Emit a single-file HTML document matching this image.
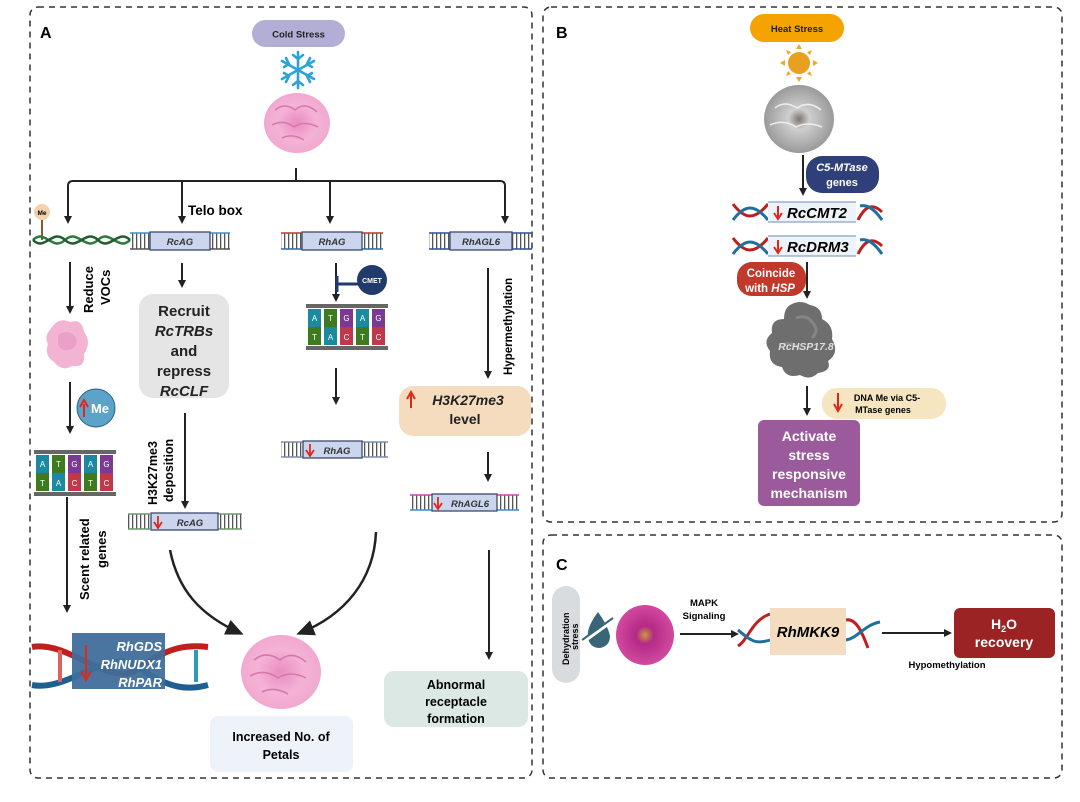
<!DOCTYPE html>
<html><head><meta charset="utf-8"><style>
html,body{margin:0;padding:0;background:#fff}
svg{display:block}
text{font-family:"Liberation Sans",Arial,sans-serif}
</style></head><body>
<svg width="1080" height="802" viewBox="0 0 1080 802" xmlns="http://www.w3.org/2000/svg">
<defs>
<marker id="ah" markerWidth="8" markerHeight="8" refX="6" refY="4" orient="auto" markerUnits="userSpaceOnUse"><path d="M0,0 L8,4 L0,8 Z" fill="#222"/></marker>
<marker id="ahb" markerWidth="18" markerHeight="16" refX="14" refY="8" orient="auto" markerUnits="userSpaceOnUse"><path d="M0,0 L18,8 L0,16 Z" fill="#222"/></marker>
<pattern id="lad" width="4" height="16" patternUnits="userSpaceOnUse"><rect x="0" y="0" width="1.3" height="16" fill="#555"/></pattern>
<radialGradient id="pink"><stop offset="0" stop-color="#e98cc0"/><stop offset="0.6" stop-color="#f4b3d6"/><stop offset="1" stop-color="#f1a8cf"/></radialGradient>
<radialGradient id="wht"><stop offset="0" stop-color="#7d756c"/><stop offset="0.3" stop-color="#cfcfcf"/><stop offset="1" stop-color="#9a9a9a"/></radialGradient>
<radialGradient id="mag"><stop offset="0" stop-color="#c89a3a"/><stop offset="0.3" stop-color="#b42a86"/><stop offset="1" stop-color="#d14aa0"/></radialGradient>
</defs>

<!-- Panel borders -->
<rect x="30" y="7" width="502" height="771" rx="8" fill="none" stroke="#333" stroke-width="1.5" stroke-dasharray="6,5"/>
<rect x="543" y="7" width="519" height="515" rx="8" fill="none" stroke="#333" stroke-width="1.5" stroke-dasharray="6,5"/>
<rect x="543" y="535" width="519" height="243" rx="8" fill="none" stroke="#333" stroke-width="1.5" stroke-dasharray="6,5"/>

<!-- ===== Panel A ===== -->
<text x="40" y="38" font-size="16" font-weight="bold">A</text>
<rect x="252" y="20" width="93" height="27" rx="13.5" fill="#b3aed6"/>
<text x="298.5" y="37.5" font-size="9.5" font-weight="bold" text-anchor="middle" fill="#222">Cold Stress</text>
<g stroke="#2ca3d6" stroke-width="2.6" stroke-linecap="round" fill="none">
<line x1="298" y1="52" x2="298" y2="88"/><line x1="282" y1="61" x2="314" y2="79"/><line x1="282" y1="79" x2="314" y2="61"/>
<path d="M293,55 L298,59 L303,55 M293,85 L298,81 L303,85 M284,67 L289,64 L286,58 M312,73 L307,76 L310,82 M284,73 L289,76 L286,82 M312,67 L307,64 L310,58"/>
</g>
<ellipse cx="297" cy="123" rx="33" ry="30" fill="url(#pink)"/>
<path d="M275,110 q10,-8 20,0 q10,-9 22,2 M272,125 q12,-6 22,2 q10,-7 24,0 M282,138 q10,-5 22,2" stroke="#d47aab" fill="none" stroke-width="1.5"/>

<!-- branch -->
<g stroke="#222" stroke-width="2" fill="none">
<line x1="296" y1="168" x2="296" y2="181"/>
<path d="M68,222 V186 Q68,181 73,181 H500 Q505,181 505,186 V222" marker-end="url(#ah)"/>
<line x1="68" y1="190" x2="68" y2="222" marker-end="url(#ah)"/>
<line x1="182" y1="181" x2="182" y2="222" marker-end="url(#ah)"/>
<line x1="330" y1="181" x2="330" y2="222" marker-end="url(#ah)"/>
</g>
<text x="188" y="215" font-size="13.5" font-weight="bold">Telo box</text>

<!-- Me ball + green DNA -->
<line x1="42" y1="218" x2="42" y2="240" stroke="#8a5a2a" stroke-width="2"/>
<circle cx="42" cy="212" r="8" fill="#f2d2ac"/>
<text x="42" y="215" font-size="6.5" font-weight="bold" text-anchor="middle">Me</text>
<path d="M33,240 C45,228 52,252 65,240 C78,228 85,252 98,240 C110,228 118,252 130,240" stroke="#2d7a3a" stroke-width="2.5" fill="none"/>
<path d="M33,240 C45,252 52,228 65,240 C78,252 85,228 98,240 C110,252 118,228 130,240" stroke="#1f5e2b" stroke-width="2.5" fill="none"/>

<!-- RcAG gene -->
<rect x="130" y="233" width="20" height="16" fill="url(#lad)"/><line x1="130" y1="233" x2="150" y2="233" stroke="#3b8fd0" stroke-width="1.5"/><line x1="130" y1="249" x2="150" y2="249" stroke="#555" stroke-width="1.5"/>
<rect x="210" y="233" width="20" height="16" fill="url(#lad)"/><line x1="210" y1="233" x2="230" y2="233" stroke="#3b8fd0" stroke-width="1.5"/><line x1="210" y1="249" x2="230" y2="249" stroke="#555" stroke-width="1.5"/>
<rect x="150" y="232" width="60" height="18" fill="#ccd5ee" stroke="#3d4a6a" stroke-width="1.3"/>
<text x="180" y="245" font-size="9.5" font-weight="bold" font-style="italic" text-anchor="middle" fill="#333">RcAG</text>

<!-- RhAG gene -->
<rect x="281" y="233" width="21" height="16" fill="url(#lad)"/><line x1="281" y1="233" x2="302" y2="233" stroke="#c0392b" stroke-width="1.5"/><line x1="281" y1="249" x2="302" y2="249" stroke="#2a6ca8" stroke-width="1.5"/>
<rect x="362" y="233" width="21" height="16" fill="url(#lad)"/><line x1="362" y1="233" x2="383" y2="233" stroke="#c0392b" stroke-width="1.5"/><line x1="362" y1="249" x2="383" y2="249" stroke="#2a6ca8" stroke-width="1.5"/>
<rect x="302" y="232" width="60" height="18" fill="#ccd5ee" stroke="#3d4a6a" stroke-width="1.3"/>
<text x="332" y="245" font-size="9.5" font-weight="bold" font-style="italic" text-anchor="middle" fill="#333">RhAG</text>

<!-- RhAGL6 gene -->
<rect x="429" y="233" width="21" height="16" fill="url(#lad)"/><line x1="429" y1="233" x2="450" y2="233" stroke="#2a4ca8" stroke-width="1.5"/><line x1="429" y1="249" x2="450" y2="249" stroke="#2a4ca8" stroke-width="1.5"/>
<rect x="512" y="233" width="20" height="16" fill="url(#lad)"/><line x1="512" y1="233" x2="532" y2="233" stroke="#2a4ca8" stroke-width="1.5"/><line x1="512" y1="249" x2="532" y2="249" stroke="#2a4ca8" stroke-width="1.5"/>
<rect x="450" y="232" width="62" height="18" fill="#ccd5ee" stroke="#3d4a6a" stroke-width="1.3"/>
<text x="481" y="245" font-size="9.5" font-weight="bold" font-style="italic" text-anchor="middle" fill="#333">RhAGL6</text>

<!-- left column -->
<g stroke="#222" stroke-width="2" fill="none">
<line x1="70" y1="262" x2="70" y2="312" marker-end="url(#ah)"/>
<line x1="70" y1="382" x2="70" y2="432" marker-end="url(#ah)"/>
<line x1="67" y1="497" x2="67" y2="611" marker-end="url(#ah)"/>
<line x1="182" y1="263" x2="182" y2="286" marker-end="url(#ah)"/>
<line x1="185" y1="413" x2="185" y2="507" marker-end="url(#ah)"/>
<line x1="336" y1="263" x2="336" y2="300" marker-end="url(#ah)"/>
<line x1="336" y1="368" x2="336" y2="403" marker-end="url(#ah)"/>
<line x1="488" y1="268" x2="488" y2="377" marker-end="url(#ah)"/>
<line x1="488" y1="452" x2="488" y2="480" marker-end="url(#ah)"/>
<line x1="489" y1="550" x2="489" y2="658" marker-end="url(#ah)"/>
</g>
<text transform="translate(93,313) rotate(-90)" font-size="13" font-weight="bold">Reduce</text>
<text transform="translate(110,305) rotate(-90)" font-size="13" font-weight="bold">VOCs</text>
<path d="M50,330 q8,-14 20,-8 q12,-4 14,10 q8,10 0,22 q2,14 -12,12 q-10,6 -18,-4 q-10,-6 -6,-18 q-4,-8 2,-14z" fill="#f3b3d3"/>
<path d="M58,335 q8,-6 16,0 q6,8 -2,14 q-10,4 -14,-4z" fill="#eaa0c7"/>
<circle cx="96" cy="408" r="19" fill="#5ba3c9" stroke="#2a5f86" stroke-width="1"/>
<path d="M84,417 V404 M80,407 L84,400 L88,407" stroke="#e0281a" stroke-width="2" fill="none"/>
<text x="100" y="413" font-size="13" font-weight="bold" fill="#fff" text-anchor="middle">Me</text>

<!-- ATGAG blocks -->
<g id="blk1">
<rect x="34" y="450" width="82" height="4" fill="#666"/><rect x="34" y="492" width="82" height="4" fill="#666"/>
<rect x="36" y="455" width="13" height="18" fill="#1b8aa0"/><rect x="36" y="473" width="13" height="18" fill="#3d7a20"/>
<rect x="52" y="455" width="13" height="18" fill="#3d7a20"/><rect x="52" y="473" width="13" height="18" fill="#1b8aa0"/>
<rect x="68" y="455" width="13" height="18" fill="#7a3a94"/><rect x="68" y="473" width="13" height="18" fill="#c0384a"/>
<rect x="84" y="455" width="13" height="18" fill="#1b8aa0"/><rect x="84" y="473" width="13" height="18" fill="#3d7a20"/>
<rect x="100" y="455" width="13" height="18" fill="#7a3a94"/><rect x="100" y="473" width="13" height="18" fill="#c0384a"/>
<g font-size="8" fill="#fff" text-anchor="middle"><text x="42.5" y="467">A</text><text x="58.5" y="467">T</text><text x="74.5" y="467">G</text><text x="90.5" y="467">A</text><text x="106.5" y="467">G</text>
<text x="42.5" y="486">T</text><text x="58.5" y="486">A</text><text x="74.5" y="486">C</text><text x="90.5" y="486">T</text><text x="106.5" y="486">C</text></g>
</g>
<use href="#blk1" transform="translate(272,-146)"/>

<text transform="translate(89,600) rotate(-90)" font-size="13" font-weight="bold">Scent related</text>
<text transform="translate(106,568) rotate(-90)" font-size="13" font-weight="bold">genes</text>

<!-- RhGDS DNA -->
<path d="M32,647 C70,640 110,690 140,668 C170,645 190,645 208,647" stroke="#c01f1f" stroke-width="6" fill="none"/>
<path d="M32,685 C70,692 110,645 140,668 C170,690 190,690 208,685" stroke="#1f5f8f" stroke-width="6" fill="none"/>
<line x1="60" y1="650" x2="60" y2="682" stroke="#e06060" stroke-width="4"/><line x1="196" y1="650" x2="196" y2="682" stroke="#2a9ac0" stroke-width="4"/>
<rect x="72" y="633" width="93" height="56" fill="#3f6e9b" opacity="0.95"/>
<path d="M86,645 V677 M81,671 L86,680 L91,671" stroke="#e0281a" stroke-width="2" fill="none"/>
<g font-size="13" font-weight="bold" font-style="italic" fill="#fff" text-anchor="end"><text x="162" y="651">RhGDS</text><text x="162" y="669">RhNUDX1</text><text x="162" y="687">RhPAR</text></g>

<!-- Recruit box -->
<rect x="139" y="294" width="90" height="104" rx="14" fill="#e5e5e5"/>
<g font-size="15" font-weight="bold" text-anchor="middle" fill="#222">
<text x="184" y="316">Recruit</text><text x="184" y="336" font-style="italic">RcTRBs</text><text x="184" y="356">and</text><text x="184" y="376">repress</text><text x="184" y="396" font-style="italic">RcCLF</text></g>
<text transform="translate(157,505) rotate(-90)" font-size="12.5" font-weight="bold">H3K27me3</text>
<text transform="translate(173,502) rotate(-90)" font-size="12.5" font-weight="bold">deposition</text>

<!-- RcAG down -->
<rect x="128" y="514" width="22" height="15" fill="url(#lad)"/><line x1="128" y1="514" x2="150" y2="514" stroke="#6a9a6a" stroke-width="1.5"/><line x1="128" y1="529" x2="150" y2="529" stroke="#6a9a6a" stroke-width="1.5"/>
<rect x="218" y="514" width="24" height="15" fill="url(#lad)"/><line x1="218" y1="514" x2="242" y2="514" stroke="#6a9a6a" stroke-width="1.5"/><line x1="218" y1="529" x2="242" y2="529" stroke="#6a9a6a" stroke-width="1.5"/>
<rect x="151" y="513" width="67" height="17" fill="#ccd5ee" stroke="#3d4a6a" stroke-width="1.3"/>
<path d="M158,516 V527 M154,522 L158,528 L162,522" stroke="#e0281a" stroke-width="1.8" fill="none"/>
<text x="190" y="526" font-size="9.5" font-weight="bold" font-style="italic" text-anchor="middle" fill="#333">RcAG</text>

<!-- CMET -->
<line x1="337" y1="284" x2="360" y2="284" stroke="#1f3a6b" stroke-width="3"/>
<line x1="337" y1="276" x2="337" y2="292" stroke="#1f3a6b" stroke-width="3"/>
<circle cx="372" cy="280" r="15" fill="#1f3a6b"/>
<text x="372" y="283" font-size="7" font-weight="bold" fill="#fff" text-anchor="middle">CMET</text>

<!-- RhAG down -->
<rect x="281" y="442" width="22" height="15" fill="url(#lad)"/><line x1="281" y1="442" x2="303" y2="442" stroke="#7a8ab0" stroke-width="1.5"/><line x1="281" y1="457" x2="303" y2="457" stroke="#7a8ab0" stroke-width="1.5"/>
<rect x="362" y="442" width="26" height="15" fill="url(#lad)"/><line x1="362" y1="442" x2="388" y2="442" stroke="#7a8ab0" stroke-width="1.5"/><line x1="362" y1="457" x2="388" y2="457" stroke="#7a8ab0" stroke-width="1.5"/>
<rect x="303" y="441" width="59" height="17" fill="#ccd5ee" stroke="#3d4a6a" stroke-width="1.3"/>
<path d="M310,444 V455 M306,450 L310,456 L314,450" stroke="#e0281a" stroke-width="1.8" fill="none"/>
<text x="337" y="454" font-size="9.5" font-weight="bold" font-style="italic" text-anchor="middle" fill="#333">RhAG</text>

<!-- Hypermethylation -->
<text transform="translate(512,375) rotate(-90)" font-size="11.5" font-weight="bold">Hypermethylation</text>
<rect x="399" y="386" width="132" height="50" rx="14" fill="#f5dcbf"/>
<path d="M411,408 V394 M407,399 L411,392 L415,399" stroke="#e0281a" stroke-width="2" fill="none"/>
<text x="468" y="405" font-size="14" font-weight="bold" font-style="italic" text-anchor="middle" fill="#222">H3K27me3</text>
<text x="465" y="424" font-size="14" font-weight="bold" text-anchor="middle" fill="#222">level</text>

<!-- RhAGL6 down -->
<rect x="410" y="495" width="22" height="15" fill="url(#lad)"/><line x1="410" y1="495" x2="432" y2="495" stroke="#d040b0" stroke-width="1.5"/><line x1="410" y1="510" x2="432" y2="510" stroke="#3b8fd0" stroke-width="1.5"/>
<rect x="497" y="495" width="22" height="15" fill="url(#lad)"/><line x1="497" y1="495" x2="519" y2="495" stroke="#d040b0" stroke-width="1.5"/><line x1="497" y1="510" x2="519" y2="510" stroke="#3b8fd0" stroke-width="1.5"/>
<rect x="432" y="494" width="65" height="17" fill="#ccd5ee" stroke="#3d4a6a" stroke-width="1.3"/>
<path d="M438,497 V508 M434,503 L438,509 L442,503" stroke="#e0281a" stroke-width="1.8" fill="none"/>
<text x="470" y="507" font-size="9.5" font-weight="bold" font-style="italic" text-anchor="middle" fill="#333">RhAGL6</text>

<!-- curved arrows -->
<path d="M170,550 C178,590 200,615 240,633" stroke="#222" stroke-width="2.5" fill="none" marker-end="url(#ahb)"/>
<path d="M376,532 C374,580 345,615 300,633" stroke="#222" stroke-width="2.5" fill="none" marker-end="url(#ahb)"/>

<!-- bottom rose and boxes -->
<ellipse cx="281" cy="672" rx="40" ry="37" fill="url(#pink)"/>
<path d="M254,660 q12,-10 26,0 q12,-10 26,2 M250,676 q14,-8 28,2 q12,-8 28,0 M262,692 q12,-6 26,2" stroke="#d47aab" fill="none" stroke-width="1.6"/>
<rect x="210" y="716" width="143" height="56" rx="8" fill="#eef3fa"/>
<text x="281" y="741" font-size="12.5" font-weight="bold" text-anchor="middle">Increased No. of</text>
<text x="281" y="759" font-size="12.5" font-weight="bold" text-anchor="middle">Petals</text>
<rect x="384" y="671" width="144" height="56" rx="10" fill="#dbe8e4"/>
<g font-size="12.5" font-weight="bold" text-anchor="middle"><text x="456" y="689">Abnormal</text><text x="456" y="706">receptacle</text><text x="456" y="723">formation</text></g>

<!-- ===== Panel B ===== -->
<text x="556" y="38" font-size="16" font-weight="bold">B</text>
<rect x="750" y="14" width="94" height="28" rx="14" fill="#f5a300"/>
<text x="797" y="32" font-size="9.5" font-weight="bold" text-anchor="middle" fill="#222">Heat Stress</text>
<circle cx="799" cy="63" r="11" fill="#e8a020"/>
<g fill="#f0a820"><path d="M799,44 l-3,5 h6z M799,82 l-3,-5 h6z M780,63 l5,-3 v6z M818,63 l-5,-3 v6z M786,50 l5,2 -3,3z M812,50 l-5,2 3,3z M786,76 l5,-2 -3,-3z M812,76 l-5,-2 3,-3z"/></g>
<ellipse cx="799" cy="119" rx="35" ry="34" fill="url(#wht)"/>
<path d="M775,108 q10,-8 22,0 q12,-8 24,2 M770,125 q14,-6 26,2 q12,-6 26,0" stroke="#eee" fill="none" stroke-width="1.5"/>
<line x1="803" y1="155" x2="803" y2="194" stroke="#222" stroke-width="2" marker-end="url(#ah)"/>
<rect x="806" y="156" width="73" height="37" rx="16" fill="#2e3f7a"/>
<text x="842" y="171" font-size="11" font-weight="bold" font-style="italic" fill="#fff" text-anchor="middle">C5-MTase</text>
<text x="842" y="186" font-size="11" font-weight="bold" fill="#fff" text-anchor="middle">genes</text>

<g id="dnaB">
<path d="M733,204 C745,220 755,220 768,204" stroke="#c01f1f" stroke-width="3" fill="none"/>
<path d="M733,220 C745,204 755,204 768,220" stroke="#1f6f9f" stroke-width="3" fill="none"/>
<path d="M858,220 C866,204 874,204 882,212" stroke="#c01f1f" stroke-width="3" fill="none"/>
<path d="M860,206 C868,204 875,210 882,220" stroke="#1f6f9f" stroke-width="3" fill="none"/>
<rect x="768" y="202" width="88" height="20" fill="#eef3fa"/>
<line x1="768" y1="202" x2="856" y2="202" stroke="#8aa0c8" stroke-width="1.2"/><line x1="768" y1="222" x2="856" y2="222" stroke="#8aa0c8" stroke-width="1.2"/>
<path d="M778,206 V218 M774,213 L778,219 L782,213" stroke="#e0281a" stroke-width="2" fill="none"/>
</g>
<use href="#dnaB" transform="translate(0,34)"/>
<text x="787" y="218" font-size="15" font-weight="bold" font-style="italic">RcCMT2</text>
<text x="787" y="252" font-size="15" font-weight="bold" font-style="italic">RcDRM3</text>

<rect x="737" y="262" width="69" height="34" rx="15" fill="#c0392b"/>
<text x="771" y="277" font-size="11.5" font-weight="bold" fill="#fff" text-anchor="middle">Coincide</text>
<text x="770" y="292" font-size="11.5" font-weight="bold" fill="#fff" text-anchor="middle">with <tspan font-style="italic">HSP</tspan></text>
<line x1="807" y1="262" x2="807" y2="297" stroke="#222" stroke-width="2" marker-end="url(#ah)"/>

<path d="M790,305 q10,-6 20,0 q12,2 12,14 q12,6 10,20 q8,14 -4,22 q4,10 -10,12 q-8,8 -18,2 q-14,4 -18,-8 q-14,-2 -12,-16 q-8,-10 2,-18 q-2,-14 12,-14 q0,-10 6,-14z" fill="#6e6e6e"/>
<path d="M796,318 q10,-4 16,4 q8,8 0,16 M782,345 q10,-4 18,4" stroke="#858585" fill="none" stroke-width="3"/>
<text x="806" y="350" font-size="10.5" font-weight="bold" font-style="italic" fill="#ddd" text-anchor="middle">RcHSP17.8</text>

<line x1="807" y1="386" x2="807" y2="414" stroke="#222" stroke-width="2" marker-end="url(#ah)"/>
<rect x="822" y="388" width="124" height="31" rx="15" fill="#f5e5c0"/>
<path d="M838,393 V410 M834,404 L838,411 L842,404" stroke="#e0281a" stroke-width="2" fill="none"/>
<text x="887" y="401" font-size="9" font-weight="bold" text-anchor="middle">DNA Me via C5-</text>
<text x="883" y="413" font-size="9" font-weight="bold" text-anchor="middle">MTase genes</text>
<rect x="758" y="420" width="102" height="86" rx="6" fill="#9b5a9b"/>
<g font-size="14" font-weight="bold" fill="#fff" text-anchor="middle"><text x="809" y="441">Activate</text><text x="809" y="460">stress</text><text x="809" y="479">responsive</text><text x="809" y="498">mechanism</text></g>

<!-- ===== Panel C ===== -->
<text x="556" y="570" font-size="16" font-weight="bold">C</text>
<rect x="552" y="586" width="28" height="97" rx="14" fill="#d9dcdf"/>
<text transform="translate(569,665) rotate(-90)" font-size="9" font-weight="bold">Dehydration</text>
<text transform="translate(578,650) rotate(-90)" font-size="9" font-weight="bold">stress</text>
<path d="M598,612 q-12,16 -10,26 q2,10 12,10 q10,-2 10,-12 q-2,-10 -12,-24z" fill="#3a6478"/>
<line x1="582" y1="643" x2="614" y2="620" stroke="#fff" stroke-width="3"/>
<line x1="582" y1="640" x2="613" y2="618" stroke="#3a6478" stroke-width="2"/>
<ellipse cx="645" cy="635" rx="29" ry="30" fill="url(#mag)"/>
<text x="704" y="606" font-size="9.5" font-weight="bold" text-anchor="middle">MAPK</text>
<text x="704" y="619" font-size="9.5" font-weight="bold" text-anchor="middle">Signaling</text>
<line x1="680" y1="634" x2="737" y2="634" stroke="#222" stroke-width="2" marker-end="url(#ah)"/>
<path d="M738,646 C748,640 752,620 770,614" stroke="#c01f1f" stroke-width="3" fill="none"/>
<path d="M738,630 C750,640 755,645 770,640" stroke="#1f6f9f" stroke-width="3" fill="none"/>
<path d="M846,620 C856,618 862,632 868,648" stroke="#c01f1f" stroke-width="3" fill="none"/>
<path d="M846,640 C858,638 864,625 880,622" stroke="#1f6f9f" stroke-width="3" fill="none"/>
<rect x="770" y="608" width="76" height="47" fill="#f4dcc0"/>
<text x="808" y="637" font-size="15" font-weight="bold" font-style="italic" text-anchor="middle">RhMKK9</text>
<line x1="882" y1="633" x2="950" y2="633" stroke="#222" stroke-width="2" marker-end="url(#ah)"/>
<text x="947" y="668" font-size="9.5" font-weight="bold" text-anchor="middle">Hypomethylation</text>
<rect x="954" y="608" width="101" height="50" rx="6" fill="#9b2323"/>
<text x="1004" y="629" font-size="14" font-weight="bold" fill="#fff" text-anchor="middle">H<tspan font-size="9" dy="3">2</tspan><tspan dy="-3">O</tspan></text>
<text x="1004" y="647" font-size="14" font-weight="bold" fill="#fff" text-anchor="middle">recovery</text>
</svg>
</body></html>
